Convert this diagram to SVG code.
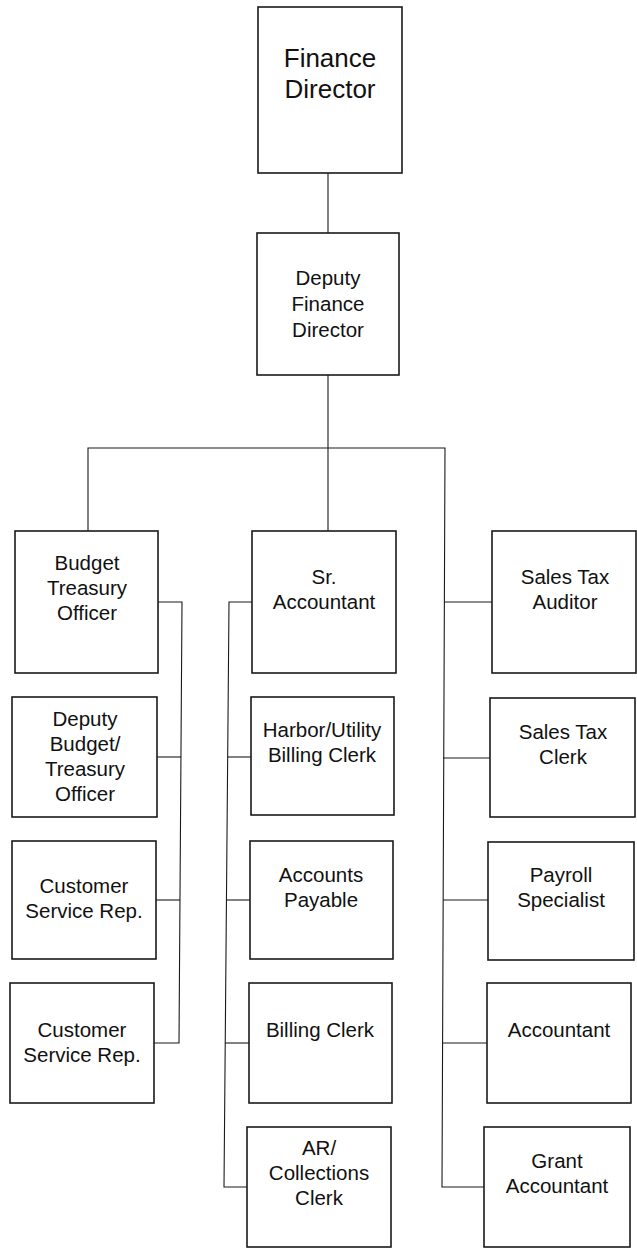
<svg xmlns="http://www.w3.org/2000/svg" width="637" height="1250" viewBox="0 0 637 1250">
<style>
.box{fill:#fff;stroke:#1a1a1a;stroke-width:1.6}
.t{font-family:"Liberation Sans",Arial,sans-serif;font-size:20.5px;fill:#111;text-anchor:middle}
.big{font-size:26px}
.c{fill:none;stroke:#1a1a1a;stroke-width:1.1}
</style>
<rect width="637" height="1250" fill="#fff"/>
<g id="connectors">
<line class="c" x1="328" y1="173" x2="328" y2="233"/>
<line class="c" x1="328" y1="375" x2="328" y2="531"/>
<polyline class="c" points="88,531 88,448 445,448 442,1187 484,1187"/>
<line class="c" x1="444" y1="602" x2="492" y2="602"/>
<line class="c" x1="443" y1="758" x2="490" y2="758"/>
<line class="c" x1="443" y1="900" x2="488" y2="900"/>
<line class="c" x1="442" y1="1043" x2="487" y2="1043"/>
<polyline class="c" points="158,602 182,602 179,1043 154,1043"/>
<line class="c" x1="157" y1="757" x2="181" y2="757"/>
<line class="c" x1="156" y1="900" x2="180" y2="900"/>
<polyline class="c" points="252,602 229,602 224,1187 247,1187"/>
<line class="c" x1="228" y1="757" x2="251" y2="757"/>
<line class="c" x1="226" y1="900" x2="250" y2="900"/>
<line class="c" x1="225" y1="1043" x2="249" y2="1043"/>
</g>
<g id="finance-director"><rect class="box" x="258" y="7" width="144" height="166"/><text class="t big" x="330" y="67">Finance</text><text class="t big" x="330" y="98">Director</text></g>
<g id="deputy-finance-director"><rect class="box" x="257" y="233" width="142" height="142"/><text class="t" x="328" y="285">Deputy</text><text class="t" x="328" y="311">Finance</text><text class="t" x="328" y="337">Director</text></g>
<g id="budget-treasury-officer"><rect class="box" x="15" y="531" width="143" height="142"/><text class="t" x="87" y="570">Budget</text><text class="t" x="87" y="595">Treasury</text><text class="t" x="87" y="620">Officer</text></g>
<g id="sr-accountant"><rect class="box" x="252" y="531" width="144" height="142"/><text class="t" x="324" y="584">Sr.</text><text class="t" x="324" y="609">Accountant</text></g>
<g id="sales-tax-auditor"><rect class="box" x="492" y="531" width="144" height="142"/><text class="t" x="565" y="584">Sales Tax</text><text class="t" x="565" y="609">Auditor</text></g>
<g id="deputy-budget-treasury-officer"><rect class="box" x="12" y="697" width="145" height="120"/><text class="t" x="85" y="726">Deputy</text><text class="t" x="85" y="751">Budget/</text><text class="t" x="85" y="776">Treasury</text><text class="t" x="85" y="801">Officer</text></g>
<g id="harbor-utility-billing-clerk"><rect class="box" x="251" y="697" width="143" height="118"/><text class="t" x="322" y="737">Harbor/Utility</text><text class="t" x="322" y="762">Billing Clerk</text></g>
<g id="sales-tax-clerk"><rect class="box" x="490" y="698" width="145" height="119"/><text class="t" x="563" y="739">Sales Tax</text><text class="t" x="563" y="764">Clerk</text></g>
<g id="customer-service-rep-1"><rect class="box" x="12" y="841" width="144" height="118"/><text class="t" x="84" y="893">Customer</text><text class="t" x="84" y="918">Service Rep.</text></g>
<g id="accounts-payable"><rect class="box" x="250" y="841" width="143" height="118"/><text class="t" x="321" y="882">Accounts</text><text class="t" x="321" y="907">Payable</text></g>
<g id="payroll-specialist"><rect class="box" x="488" y="842" width="146" height="118"/><text class="t" x="561" y="882">Payroll</text><text class="t" x="561" y="907">Specialist</text></g>
<g id="customer-service-rep-2"><rect class="box" x="10" y="983" width="144" height="120"/><text class="t" x="82" y="1037">Customer</text><text class="t" x="82" y="1062">Service Rep.</text></g>
<g id="billing-clerk"><rect class="box" x="249" y="983" width="143" height="120"/><text class="t" x="320" y="1037">Billing Clerk</text></g>
<g id="accountant"><rect class="box" x="487" y="983" width="144" height="120"/><text class="t" x="559" y="1037">Accountant</text></g>
<g id="ar-collections-clerk"><rect class="box" x="247" y="1127" width="144" height="120"/><text class="t" x="319" y="1155">AR/</text><text class="t" x="319" y="1180">Collections</text><text class="t" x="319" y="1205">Clerk</text></g>
<g id="grant-accountant"><rect class="box" x="484" y="1127" width="146" height="120"/><text class="t" x="557" y="1168">Grant</text><text class="t" x="557" y="1193">Accountant</text></g>
</svg>
